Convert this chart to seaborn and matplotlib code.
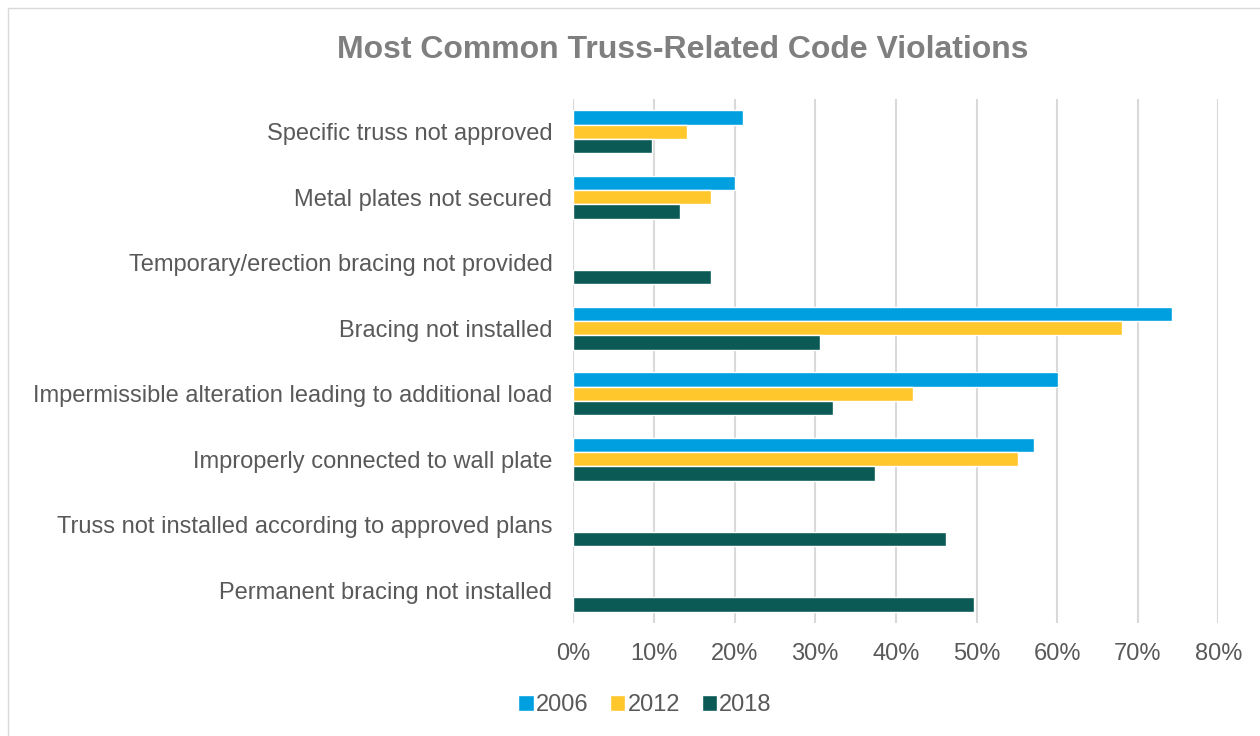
import pandas as pd
import numpy as np
import matplotlib
matplotlib.use("Agg")
import matplotlib.pyplot as plt
import seaborn as sns
from matplotlib.patches import Rectangle
from matplotlib.ticker import PercentFormatter

categories = [
    "Specific truss not approved",
    "Metal plates not secured",
    "Temporary/erection bracing not provided",
    "Bracing not installed",
    "Impermissible alteration leading to additional load",
    "Improperly connected to wall plate",
    "Truss not installed according to approved plans",
    "Permanent bracing not installed",
]
years = ["2006", "2012", "2018"]
pct_2006 = [21.1, 20.1, np.nan, 74.2, 60.1, 57.1, np.nan, np.nan]
pct_2012 = [14.1, 17.1, np.nan, 68.1, 42.1, 55.1, np.nan, np.nan]
pct_2018 = [9.8, 13.2, 17.1, 30.6, 32.2, 37.4, 46.2, 49.7]
colors = ["#009FDF", "#FFC72C", "#0B5A55"]

rows = []
for year, vals in zip(years, [pct_2006, pct_2012, pct_2018]):
    for cat, v in zip(categories, vals):
        rows.append({"category": cat, "year": year, "pct": v})
df = pd.DataFrame(rows)

sns.set_style("white")
plt.rcParams["font.family"] = ["Liberation Sans", "DejaVu Sans"]

fig = plt.figure(figsize=(12.6, 7.36), dpi=100)
ax = fig.add_axes([0.455, 0.1535, 0.512, 0.712])

sns.barplot(data=df, x="pct", y="category", hue="year", order=categories,
            hue_order=years, palette=colors, orient="h", width=0.656,
            saturation=1, ax=ax, legend=True)

ax.set_xlim(0, 80)
ax.set_xticks(range(0, 81, 10))
ax.xaxis.set_major_formatter(PercentFormatter(decimals=0))
ax.set_xlabel("")
ax.set_ylabel("")
ax.grid(axis="x", color="#d9d9d9", linewidth=1.5)
ax.set_axisbelow(True)
for s in ax.spines.values():
    s.set_visible(False)
ax.tick_params(axis="both", length=0, labelsize=17, labelcolor="#595959")
ax.tick_params(axis="y", pad=15)
ax.tick_params(axis="x", pad=14.5)

ax.legend_.remove()
handles, labels = ax.get_legend_handles_labels()
fig.legend(handles, labels, loc="center", bbox_to_anchor=(0.512, 0.042),
           ncol=3, frameon=False, fontsize=17, handlelength=0.65,
           handleheight=0.65, handletextpad=0.1, columnspacing=0.9,
           labelcolor="#595959")

fig.text(0.542, 0.932, "Most Common Truss-Related Code Violations",
         ha="center", va="center", fontsize=23, fontweight="bold",
         color="#7f7f7f")

fig.patches.append(Rectangle((0.0063, -0.1), 1.2, 1.089, transform=fig.transFigure,
                             fill=False, edgecolor="#d9d9d9", linewidth=1))

fig.savefig("out.png", dpi=100)
